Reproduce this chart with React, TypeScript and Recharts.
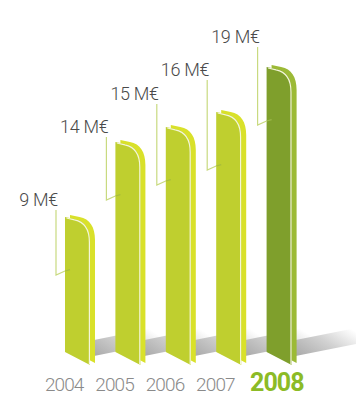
import React from 'react';
import { BarChart, Bar, XAxis, YAxis } from 'recharts';

const years = ['2004', '2005', '2006', '2007', '2008'];
const revenue = [9, 14, 15, 16, 19];
const valueLabels = ['9 M€', '14 M€', '15 M€', '16 M€', '19 M€'];
const highlightYear = '2008';

// presentation: how far each leader line rises above its bar top (px)
const LABEL_RAISE = [7, 5, 23, 32, 20];

const data = years.map((year, i) => ({ year, value: revenue[i], label: valueLabels[i], idx: i }));

const BarShape = (props: any) => {
  const { x, y, width, height, payload } = props;
  const i = payload.idx;
  const top = y;
  const base = y + height;
  const w = width - 5;
  const hi = payload.year === highlightYear;
  const front = hi ? '#7f9f2c' : '#bfcf2f';
  const side = hi ? '#9cba36' : '#d9e12a';
  const path = (ox: number, oy: number) =>
    `M${x + ox},${top + oy} L${x + ox + w * 0.38},${top + oy + 2} C${x + ox + w * 0.8},${top + oy + 4} ${x + ox + w},${top + oy + 12} ${x + ox + w},${top + oy + 25} L${x + ox + w},${base + oy + 13} L${x + ox},${base + oy} Z`;
  const hl = `M${x + 1.5},${top + 1} L${x + w * 0.38},${top + 2.8} C${x + w * 0.78},${top + 4.8} ${x + w - 0.6},${top + 12.5} ${x + w - 0.6},${top + 25} L${x + w - 0.6},${base + 12.6}`;
  const xr = x + width - 1;
  const L = 66;
  const slope = 0.2;
  const shadow = `M${xr},${base - 12} L${xr + L},${base - 12 - L * slope} L${xr + L},${base + 4 - L * slope} L${xr},${base + 4} Z`;
  const lx = x - 9;
  const lineTop = top - LABEL_RAISE[i];
  const lineBot = top + 58;
  const gid = `sh${i}`;
  return (
    <g>
      <defs>
        <linearGradient id={gid} x1="0" y1="1" x2="1" y2="0.3">
          <stop offset="0%" stopColor="#a9a9a9" />
          <stop offset="55%" stopColor="#d2d2d2" />
          <stop offset="100%" stopColor="#ffffff" />
        </linearGradient>
      </defs>
      <path d={shadow} fill={`url(#${gid})`} />
      <path d={path(5, -2)} fill={side} />
      <path d={path(0, 0)} fill={front} />
      <path d={hl} fill="none" stroke="#f4f6d8" strokeWidth={1.2} />
      <polyline
        points={`${lx},${lineTop} ${lx},${lineBot} ${x},${lineBot - 4}`}
        fill="none"
        stroke="#c9da80"
        strokeWidth={1.2}
      />
      <line x1={x} y1={lineBot - 4} x2={x + 5} y2={lineBot - 5.4} stroke={hi ? '#9cb84a' : '#a7bc3c'} strokeWidth={1.2} />
      <text
        x={lx + 2}
        y={lineTop - 4}
        textAnchor="end"
        fontFamily="Roboto, sans-serif"
        fontWeight={300}
        fontSize={18}
        letterSpacing={-0.3}
        fill="#4a4a4a"
      >
        {payload.label}
      </text>
    </g>
  );
};

const YearTick = (props: any) => {
  const { x, y, payload } = props;
  const hi = payload.value === highlightYear;
  return (
    <text
      x={x + (hi ? -5 : -16)}
      y={y + 39}
      textAnchor="middle"
      fontFamily="Roboto, sans-serif"
      fontWeight={hi ? 700 : 300}
      fontSize={hi ? 25 : 19}
      letterSpacing={hi ? -1 : -0.9}
      fill={hi ? '#8cbb26' : '#8a8a8a'}
    >
      {payload.value}
    </text>
  );
};

export default function App() {
  return (
    <div style={{ position: 'absolute', left: 0, top: 0, background: '#fff' }}>
      <BarChart
        width={356}
        height={396}
        data={data}
        margin={{ top: 52, right: 49, bottom: 0, left: 55 }}
        barSize={30}
      >
        <XAxis
          dataKey="year"
          height={44}
          axisLine={false}
          tickLine={false}
          tickSize={0}
          tickMargin={0}
          interval={0}
          tick={<YearTick />}
        />
        <YAxis hide domain={[0, 20]} />
        <Bar dataKey="value" isAnimationActive={false} shape={<BarShape />} />
      </BarChart>
    </div>
  );
}
